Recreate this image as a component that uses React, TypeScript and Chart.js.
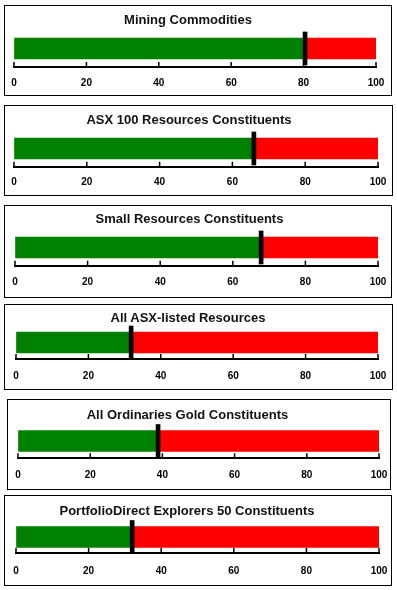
import React, { useEffect, useRef } from "react";
import { Chart, registerables } from "chart.js";

Chart.register(...registerables);

// ---- data ----
const TITLES = [
  "Mining Commodities",
  "ASX 100 Resources Constituents",
  "Small Resources Constituents",
  "All ASX-listed Resources",
  "All Ordinaries Gold Constituents",
  "PortfolioDirect Explorers 50 Constituents",
];
const VALUES = [80.4, 65.9, 67.8, 31.8, 38.8, 32.0];
const AXIS_MIN = 0;
const AXIS_MAX = 100;
const TICK_STEP = 20;
const MARKER_HALF = 0.55;

// ---- layout (page pixels) ----
type Layout = {
  x: number; y: number; w: number; h: number;
  plotL: number; plotR: number;
  titleX: number; titleY: number;
  barY: number; axisY: number; labelY: number;
};
const LAYOUT: Layout[] = [
  { x: 4, y: 5, w: 388, h: 91, plotL: 14, plotR: 376, titleX: 188, titleY: 19.7, barY: 48.5, axisY: 67, labelY: 83 },
  { x: 4, y: 105, w: 389, h: 91, plotL: 14, plotR: 378, titleX: 189, titleY: 119.5, barY: 148.5, axisY: 166.7, labelY: 182.5 },
  { x: 4, y: 205, w: 388, h: 93, plotL: 15, plotR: 378, titleX: 189.5, titleY: 218.3, barY: 247.5, axisY: 265.7, labelY: 282.3 },
  { x: 4, y: 304, w: 389, h: 86, plotL: 16, plotR: 378, titleX: 188, titleY: 317, barY: 342.5, axisY: 359, labelY: 376 },
  { x: 7, y: 399, w: 384, h: 91, plotL: 18, plotR: 379, titleX: 187.5, titleY: 414.3, barY: 441, axisY: 458.3, labelY: 475 },
  { x: 4, y: 495, w: 388, h: 91, plotL: 16, plotR: 379, titleX: 187, titleY: 510.3, barY: 537, axisY: 552.7, labelY: 571.3 },
];

const GREEN = "#008000";
const RED = "#ff0000";
const FONT = "'Liberation Sans', Arial, sans-serif";

const upTicks = {
  id: "upTicks",
  beforeDatasetsDraw(chart: any) {
    const xs = chart.scales.x;
    const ctx = chart.ctx;
    const bottom = chart.chartArea.bottom;
    ctx.save();
    ctx.strokeStyle = "#000";
    ctx.lineWidth = 1.5;
    xs.ticks.forEach((t: any) => {
      const px = xs.getPixelForValue(t.value);
      ctx.beginPath();
      ctx.moveTo(px, bottom);
      ctx.lineTo(px, bottom - 5);
      ctx.stroke();
    });
    ctx.restore();
  },
};

function Panel({ idx }: { idx: number }) {
  const ref = useRef<HTMLCanvasElement>(null);
  const L = LAYOUT[idx];
  const cw = L.w - 2;
  const ch = L.h - 2;
  const x0 = L.x + 1;
  const y0 = L.y + 1;

  useEffect(() => {
    if (!ref.current) return;
    const v = VALUES[idx];
    const top = 2 * L.barY - L.axisY - y0;
    const bottom = L.axisY - y0;
    const tl = Math.max(0, L.labelY - L.axisY - 6);
    const scaleH = tl + 12;
    const padBottom = ch - bottom - scaleH;
    const chart = new Chart(ref.current, {
      type: "bar",
      data: {
        labels: [TITLES[idx]],
        datasets: [
          {
            data: [[v - MARKER_HALF, v + MARKER_HALF]] as any,
            backgroundColor: "#000",
            barThickness: 33,
            grouped: false,
            order: 0,
            clip: false as any,
          },
          {
            data: [[AXIS_MIN, v]] as any,
            backgroundColor: GREEN,
            barThickness: 21,
            grouped: false,
            order: 1,
          },
          {
            data: [[v, AXIS_MAX]] as any,
            backgroundColor: RED,
            barThickness: 21,
            grouped: false,
            order: 2,
          },
        ],
      },
      options: {
        indexAxis: "y",
        responsive: false,
        animation: false,
        layout: {
          padding: {
            left: L.plotL - x0,
            right: cw - (L.plotR - x0),
            top,
            bottom: padBottom,
          },
        },
        plugins: {
          legend: { display: false },
          tooltip: { enabled: false },
          title: { display: false },
        },
        scales: {
          y: { display: false },
          x: {
            type: "linear",
            position: "bottom",
            min: AXIS_MIN,
            max: AXIS_MAX,
            ticks: {
              stepSize: TICK_STEP,
              color: "#000",
              padding: 0,
              maxRotation: 0,
              font: { family: FONT, size: 10, weight: "bold" },
            },
            grid: {
              display: true,
              drawOnChartArea: false,
              drawTicks: true,
              tickLength: tl,
              tickColor: "rgba(0,0,0,0)",
            },
            border: { display: true, color: "#000", width: 2 },
          },
        },
      },
      plugins: [upTicks],
    });
    return () => chart.destroy();
  }, [idx]);

  return (
    <div
      style={{
        position: "absolute",
        left: L.x,
        top: L.y,
        width: L.w,
        height: L.h,
        border: "1px solid #000",
        boxSizing: "border-box",
        background: "#fff",
      }}
    >
      <canvas
        ref={ref}
        width={cw}
        height={ch}
        style={{ position: "absolute", left: 0, top: 0, width: cw, height: ch, display: "block" }}
      />
      <div
        style={{
          position: "absolute",
          left: L.titleX - x0,
          top: L.titleY - y0 - 6.35,
          transform: "translateX(-50%)",
          whiteSpace: "nowrap",
          fontFamily: FONT,
          fontWeight: "bold",
          fontSize: 13,
          lineHeight: "13px",
          color: "#111",
        }}
      >
        {TITLES[idx]}
      </div>
    </div>
  );
}

export default function App() {
  return (
    <div style={{ position: "absolute", left: 0, top: 0, width: 397, height: 590, background: "#fff" }}>
      {TITLES.map((_, i) => (
        <Panel key={i} idx={i} />
      ))}
    </div>
  );
}
